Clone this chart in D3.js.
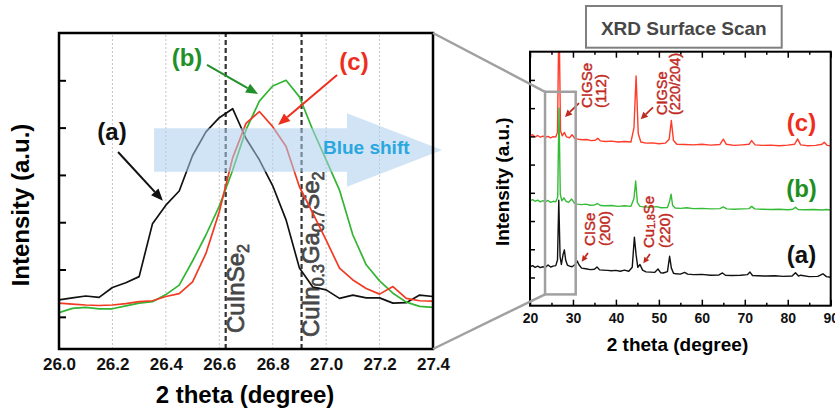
<!DOCTYPE html>
<html lang="en">
<head>
<meta charset="UTF-8">
<title>XRD zoom and surface scan</title>
<script src="https://d3js.org/d3.v7.min.js"></script>
<style>
  body { margin: 0; background: #fff; }
</style>
</head>
<body>
<script>
// ---- data: zoomed (112) region ----
const zoomTheta = [26.00, 26.05, 26.10, 26.15, 26.20, 26.25, 26.30, 26.35, 26.40, 26.45,
                   26.50, 26.55, 26.60, 26.65, 26.70, 26.75, 26.80, 26.85, 26.90, 26.95,
                   27.00, 27.05, 27.10, 27.15, 27.20, 27.25, 27.30, 27.35, 27.40];
const zoomA = [0.36, 0.40, 0.44, 0.41, 0.62, 0.72, 0.85, 1.97, 2.36, 2.66,
               3.41, 3.91, 4.21, 4.40, 3.77, 3.32, 2.77, 2.05, 1.03, 0.63,
               0.57, 0.39, 0.46, 0.40, 0.40, 0.29, 0.30, 0.46, 0.43];
const zoomB = [0.09, 0.18, 0.20, 0.17, 0.17, 0.23, 0.29, 0.32, 0.47, 0.67,
               1.18, 1.73, 2.34, 3.10, 3.95, 4.56, 4.88, 5.00, 4.65, 3.95,
               3.32, 2.68, 1.73, 1.10, 0.76, 0.50, 0.31, 0.22, 0.20];
const zoomC = [0.29, 0.27, 0.25, 0.24, 0.25, 0.28, 0.32, 0.34, 0.43, 0.49,
               0.74, 1.34, 2.22, 3.36, 4.09, 4.34, 4.02, 3.60, 2.75, 2.19,
               1.62, 1.03, 0.78, 0.60, 0.48, 0.64, 0.39, 0.34, 0.33];
const zoomTicks = [26.0, 26.2, 26.4, 26.6, 26.8, 27.0, 27.2, 27.4];
const refTheta = [26.624, 26.908];

// ---- data: full surface scan, [2theta, intensity] ----
const scanA = [[20,1.38],[20.6,1.42],[21.2,1.36],[21.8,1.40],[22.4,1.35],[23,1.38],[23.6,1.36],[24.2,1.44],
  [24.8,1.37],[25.4,1.40],[26,1.42],[26.4,1.62],[26.7,3.74],[27.0,1.75],[27.3,1.46],[27.7,1.82],[28.0,1.98],
  [28.3,1.62],[28.7,1.44],[29.2,1.40],[29.8,1.38],[30.5,1.46],[31.0,1.58],[31.4,1.45],[32,1.33],[33,1.31],
  [34,1.28],[35,1.29],[35.6,1.37],[36.2,1.27],[37,1.26],[38,1.25],[39,1.24],[40,1.25],[41,1.22],[42,1.26],
  [43,1.22],[43.8,1.36],[44.3,2.43],[44.7,1.80],[45.1,1.36],[45.6,1.46],[46.2,1.26],[47,1.20],[48,1.19],
  [49,1.18],[49.8,1.30],[50.4,1.17],[51,1.16],[52,1.21],[52.5,1.75],[52.9,1.34],[53.4,1.15],[54,1.13],
  [55,1.12],[56,1.18],[56.7,1.12],[58,1.10],[60,1.11],[62,1.08],[64,1.09],[64.8,1.16],[65.5,1.08],[67,1.07],
  [69,1.08],[70.6,1.10],[71.2,1.19],[71.8,1.07],[73,1.06],[75,1.05],[77,1.06],[79,1.04],[81,1.05],[81.8,1.17],
  [82.5,1.05],[83,1.08],[85,1.03],[87,1.04],[88.2,1.13],[89,1.03],[90,1.01]];
const scanB = [[20,3.72],[20.6,3.76],[21.2,3.70],[21.8,3.74],[22.4,3.68],[23,3.72],[23.6,3.69],[24.2,3.73],
  [24.8,3.66],[25.4,3.70],[26,3.68],[26.45,3.85],[26.75,7.0],[27.05,3.95],[27.4,3.72],[27.9,3.82],[28.4,3.70],
  [29.0,3.66],[29.7,3.78],[30.3,3.64],[31,3.60],[32,3.58],[33,3.60],[34,3.56],[35,3.57],[35.7,3.62],[36.4,3.55],
  [37.5,3.54],[39,3.55],[40.5,3.52],[42,3.54],[43.5,3.52],[44.2,3.80],[44.6,4.42],[45.0,3.65],[45.6,3.52],
  [46.5,3.50],[48,3.49],[49.5,3.51],[50.5,3.47],[52,3.48],[52.5,3.70],[52.85,3.95],[53.2,3.55],[53.8,3.46],
  [55,3.45],[56.5,3.47],[58,3.44],[60,3.45],[62,3.43],[64.2,3.44],[65.0,3.50],[65.8,3.43],[67.5,3.42],
  [69.5,3.43],[71.0,3.44],[71.6,3.52],[72.3,3.43],[74,3.42],[76,3.41],[78,3.42],[80,3.40],[81.2,3.42],
  [81.8,3.49],[82.4,3.41],[84,3.40],[86,3.41],[88,3.39],[89,3.41],[90,3.39]];
const scanC = [[20,6.02],[20.6,6.06],[21.2,5.98],[21.8,6.03],[22.4,5.97],[23,6.01],[23.6,5.97],[24.2,6.00],
  [24.8,5.95],[25.4,5.99],[26,5.98],[26.4,6.15],[26.75,10.5],[27.1,6.2],[27.5,6.02],[28.0,6.14],[28.5,5.98],
  [29.2,5.95],[29.8,6.06],[30.4,5.93],[31.2,5.90],[32.2,5.88],[33.2,5.89],[34.2,5.85],[35.2,5.86],[35.8,5.93],
  [36.4,5.84],[37.5,5.82],[39,5.83],[40.5,5.80],[42,5.82],[43.5,5.80],[44.2,6.3],[44.7,8.14],[45.2,6.1],
  [45.8,5.80],[47,5.76],[48.5,5.77],[50,5.74],[51.5,5.76],[52.4,5.90],[52.9,6.56],[53.4,5.85],[54.2,5.72],
  [56,5.71],[58,5.70],[60,5.72],[62,5.69],[64.2,5.71],[65.0,5.90],[65.7,5.72],[67.5,5.68],[69.5,5.70],
  [71.0,5.72],[71.6,5.85],[72.4,5.70],[74,5.68],[76,5.69],[78,5.67],[80,5.69],[81.6,5.72],[82.3,5.91],
  [83.0,5.70],[84.5,5.67],[86.5,5.68],[88.0,5.72],[88.5,5.79],[89.2,5.68],[90,5.67]];
const scanTicks = [20, 30, 40, 50, 60, 70, 80, 90];
const scanMinor = [25, 35, 45, 55, 65, 75, 85];

const font = '"Liberation Sans", Arial, Helvetica, sans-serif';
const black = "#111", green = "#33b533", red = "#f23a22";
const greenText = "#22902a", redText = "#ee2e1c", annot = "#bf2a1f";

const svg = d3.select("body").append("svg")
    .attr("width", 835).attr("height", 409)
    .style("font-family", font);

function arrow(g, x1, y1, x2, y2, color, w, hl, hw) {
    const a = Math.atan2(y2 - y1, x2 - x1);
    const bx = x2 - hl * Math.cos(a), by = y2 - hl * Math.sin(a);
    g.append("line").attr("x1", x1).attr("y1", y1).attr("x2", bx).attr("y2", by)
        .attr("stroke", color).attr("stroke-width", w);
    const px = -Math.sin(a) * hw / 2, py = Math.cos(a) * hw / 2;
    g.append("polygon")
        .attr("points", [[x2, y2], [bx + px, by + py], [bx - px, by - py]].map(p => p.join(",")).join(" "))
        .attr("fill", color);
}

// ================= left panel =================
const xL = d3.scaleLinear().domain([26, 27.4]).range([59, 433]);
const yL = d3.scaleLinear().domain([-0.68, 6]).range([349, 33]);
const left = svg.append("g");

// dotted grid
left.selectAll(".grid").data(zoomTicks.slice(1, -1)).join("line")
    .attr("x1", d => xL(d)).attr("x2", d => xL(d))
    .attr("y1", yL(-0.68)).attr("y2", yL(6))
    .attr("stroke", "#c4c4c4").attr("stroke-width", 1).attr("stroke-dasharray", "2,2");

// reference positions
left.selectAll(".ref").data(refTheta).join("line")
    .attr("x1", d => xL(d)).attr("x2", d => xL(d))
    .attr("y1", yL(-0.68)).attr("y2", yL(6))
    .attr("stroke", "#333").attr("stroke-width", 2.2).attr("stroke-dasharray", "5,3");

// phase labels
const lab1 = left.append("text").attr("transform", "translate(244,333) rotate(-90)")
    .attr("font-size", 24).attr("fill", "#474747")
    .attr("stroke", "#474747").attr("stroke-width", 0.7);
lab1.append("tspan").text("CuInSe");
lab1.append("tspan").attr("font-size", 16).attr("dy", 5).text("2");

const lab2 = left.append("text").attr("transform", "translate(319,337) rotate(-90)")
    .attr("font-size", 24).attr("fill", "#474747")
    .attr("stroke", "#474747").attr("stroke-width", 0.7);
lab2.append("tspan").text("CuIn");
lab2.append("tspan").attr("font-size", 16).attr("dy", 5).text("0.3");
lab2.append("tspan").attr("dy", -5).text("Ga");
lab2.append("tspan").attr("font-size", 16).attr("dy", 5).text("0.7");
lab2.append("tspan").attr("dy", -5).text("Se");
lab2.append("tspan").attr("font-size", 16).attr("dy", 5).text("2");

// curves
const lineL = d3.line().x((d, i) => xL(zoomTheta[i])).y(d => yL(d));
[[zoomA, black], [zoomB, green], [zoomC, red]].forEach(([s, c]) => {
    left.append("path").attr("d", lineL(s)).attr("fill", "none")
        .attr("stroke", c).attr("stroke-width", 1.7).attr("stroke-linejoin", "round");
});

// blue shift arrow (in data units)
const blue = [[26.356, 3.986], [27.078, 3.986], [27.078, 4.303], [27.434, 3.527],
              [27.078, 2.751], [27.078, 3.068], [26.356, 3.068]];
left.append("polygon")
    .attr("points", blue.map(p => [xL(p[0]), yL(p[1])].join(",")).join(" "))
    .attr("fill", "#a9cdec").attr("opacity", 0.55);
left.append("text").attr("x", 323).attr("y", 154).attr("font-size", 19)
    .attr("font-weight", "bold").attr("fill", "#2aa7df").text("Blue shift");

// axes
left.append("g").attr("transform", "translate(0,349)")
    .call(d3.axisBottom(xL).tickValues(zoomTicks).tickFormat(d3.format(".1f")).tickSize(0).tickPadding(9))
    .call(g => g.select(".domain").remove())
    .selectAll("text").attr("font-size", 17).attr("font-weight", "bold")
    .attr("font-family", font).attr("fill", "#111");
left.append("g").attr("transform", "translate(59,0)")
    .call(d3.axisRight(yL).tickValues([0, 1, 2, 3, 4, 5]).tickSize(7).tickFormat(""))
    .call(g => g.select(".domain").remove())
    .selectAll("line").attr("stroke-width", 2);
left.append("rect").attr("x", 59).attr("y", 33).attr("width", 374).attr("height", 316)
    .attr("fill", "none").attr("stroke", "#000").attr("stroke-width", 2.5);

left.append("text").attr("transform", "translate(29,205) rotate(-90)")
    .attr("text-anchor", "middle").attr("font-size", 24).attr("font-weight", "bold")
    .text("Intensity (a.u.)");
left.append("text").attr("x", 245).attr("y", 403).attr("text-anchor", "middle")
    .attr("font-size", 24).attr("font-weight", "bold").text("2 theta (degree)");

// series labels
left.append("text").attr("x", 112).attr("y", 140).attr("text-anchor", "middle")
    .attr("font-size", 24).attr("font-weight", "bold").attr("fill", black).text("(a)");
left.append("text").attr("x", 187).attr("y", 66).attr("text-anchor", "middle")
    .attr("font-size", 24).attr("font-weight", "bold").attr("fill", greenText).text("(b)");
left.append("text").attr("x", 354).attr("y", 70).attr("text-anchor", "middle")
    .attr("font-size", 24).attr("font-weight", "bold").attr("fill", redText).text("(c)");
arrow(left, xL(26.221), yL(3.485), xL(26.389), yL(2.456), black, 2, 12, 10);
arrow(left, xL(26.554), yL(5.324), xL(26.745), yL(4.711), greenText, 2, 12, 10);
arrow(left, xL(27.041), yL(5.113), xL(26.82), yL(4.056), redText, 2, 12, 10);

// ================= right panel =================
const xR = d3.scaleLinear().domain([20, 90]).range([530, 830.7]);
const yR = d3.scaleLinear().domain([0, 9]).range([305.7, 51.7]);
const right = svg.append("g");

right.append("clipPath").attr("id", "clipR").append("rect")
    .attr("x", 530).attr("y", 51.7).attr("width", 300.7).attr("height", 254);

const lineR = d3.line().x(d => xR(d[0])).y(d => yR(d[1]));
const data = right.append("g").attr("clip-path", "url(#clipR)");
[[scanA, black], [scanC, "#ff3b2a"], [scanB, "#36bb36"]].forEach(([s, c]) => {
    data.append("path").attr("d", lineR(s)).attr("fill", "none")
        .attr("stroke", c).attr("stroke-width", 1.4).attr("stroke-linejoin", "round");
});

// axes with inward ticks
right.append("g").attr("transform", "translate(0,305.7)")
    .call(d3.axisBottom(xR).tickValues(scanTicks).tickSize(-6).tickPadding(7))
    .call(g => g.select(".domain").remove())
    .call(g => g.selectAll("line").attr("stroke-width", 1.5))
    .selectAll("text").attr("font-size", 14).attr("font-weight", "bold")
    .attr("font-family", font).attr("fill", "#111");
right.append("g").attr("transform", "translate(0,305.7)")
    .call(d3.axisBottom(xR).tickValues(scanMinor).tickSize(-3).tickFormat(""))
    .call(g => g.select(".domain").remove())
    .selectAll("line").attr("stroke-width", 1.5);
right.append("g").attr("transform", "translate(0,51.7)")
    .call(d3.axisTop(xR).tickValues(scanTicks).tickSize(-6).tickFormat(""))
    .call(g => g.select(".domain").remove())
    .selectAll("line").attr("stroke-width", 1.5);
right.append("g").attr("transform", "translate(0,51.7)")
    .call(d3.axisTop(xR).tickValues(scanMinor).tickSize(-3).tickFormat(""))
    .call(g => g.select(".domain").remove())
    .selectAll("line").attr("stroke-width", 1.5);
right.append("g").attr("transform", "translate(530,0)")
    .call(d3.axisLeft(yR).tickValues([1, 2, 3, 4, 5, 6, 7, 8]).tickSize(-5).tickFormat(""))
    .call(g => g.select(".domain").remove())
    .selectAll("line").attr("stroke-width", 1.5);
right.append("rect").attr("x", 530).attr("y", 51.7).attr("width", 300.7).attr("height", 254)
    .attr("fill", "none").attr("stroke", "#000").attr("stroke-width", 2);

right.append("text").attr("transform", "translate(508.7,181.7) rotate(-90)")
    .attr("text-anchor", "middle").attr("font-size", 19).attr("font-weight", "bold")
    .text("Intensity (a.u.)");
right.append("text").attr("x", 677.5).attr("y", 351).attr("text-anchor", "middle")
    .attr("font-size", 19).attr("font-weight", "bold").text("2 theta (degree)");

// title box
right.append("rect").attr("x", 586).attr("y", 6).attr("width", 195.7).attr("height", 41.7)
    .attr("fill", "#fff").attr("stroke", "#7f7f7f").attr("stroke-width", 2);
right.append("text").attr("x", 683.8).attr("y", 35).attr("text-anchor", "middle")
    .attr("font-size", 19).attr("font-weight", "bold").attr("fill", "#474747").text("XRD Surface Scan");

// series labels
right.append("text").attr("x", 801.5).attr("y", 131).attr("text-anchor", "middle")
    .attr("font-size", 24).attr("font-weight", "bold").attr("fill", redText).text("(c)");
right.append("text").attr("x", 801.5).attr("y", 197).attr("text-anchor", "middle")
    .attr("font-size", 24).attr("font-weight", "bold").attr("fill", "#1f8f1f").text("(b)");
right.append("text").attr("x", 801.5).attr("y", 263).attr("text-anchor", "middle")
    .attr("font-size", 24).attr("font-weight", "bold").attr("fill", black).text("(a)");

// peak annotations
function peakLabel(tx, ty, size, first, second, gap) {
    const t = right.append("text").attr("transform", `translate(${tx},${ty}) rotate(-90)`)
        .attr("font-size", size).attr("fill", annot)
        .attr("stroke", annot).attr("stroke-width", 0.45);
    first(t);
    t.append("tspan").attr("x", 0).attr("dy", gap).text(second);
}
peakLabel(592, 108, 15, t => t.append("tspan").text("CIGSe"), "(112)", 14);
peakLabel(667, 115, 14.5, t => t.append("tspan").text("CIGSe"), "(220/204)", 12.5);
peakLabel(595, 246, 15, t => t.append("tspan").text("CISe"), "(200)", 15);
peakLabel(654, 248, 15, t => {
    t.append("tspan").text("Cu");
    t.append("tspan").attr("font-size", 10.5).attr("dy", 1).text("1.8");
    t.append("tspan").attr("dy", -1).text("Se");
}, "(220)", 16);
arrow(right, xR(31.41), yR(7.18), xR(28.15), yR(6.69), annot, 1.8, 7, 7);
arrow(right, xR(48.63), yR(7.03), xR(45.77), yR(6.61), annot, 1.8, 7, 7);
arrow(right, xR(33.5), yR(1.87), xR(32.03), yR(1.56), annot, 1.8, 6, 6);
arrow(right, xR(47.93), yR(1.83), xR(46.37), yR(1.50), annot, 1.8, 6, 6);

// zoom window and connector lines
const zx0 = xR(23.5), zx1 = xR(30.64), zy0 = yR(7.58), zy1 = yR(0.40);
svg.append("rect").attr("x", zx0).attr("y", zy0).attr("width", zx1 - zx0).attr("height", zy1 - zy0)
    .attr("fill", "none").attr("stroke", "#a0a0a0").attr("stroke-width", 2.5);
svg.append("line").attr("x1", xL(27.4)).attr("y1", yL(6)).attr("x2", zx0).attr("y2", zy0)
    .attr("stroke", "#a0a0a0").attr("stroke-width", 2.5);
svg.append("line").attr("x1", xL(27.4)).attr("y1", yL(-0.68)).attr("x2", zx0).attr("y2", zy1)
    .attr("stroke", "#a0a0a0").attr("stroke-width", 2.5);
</script>
</body>
</html>
